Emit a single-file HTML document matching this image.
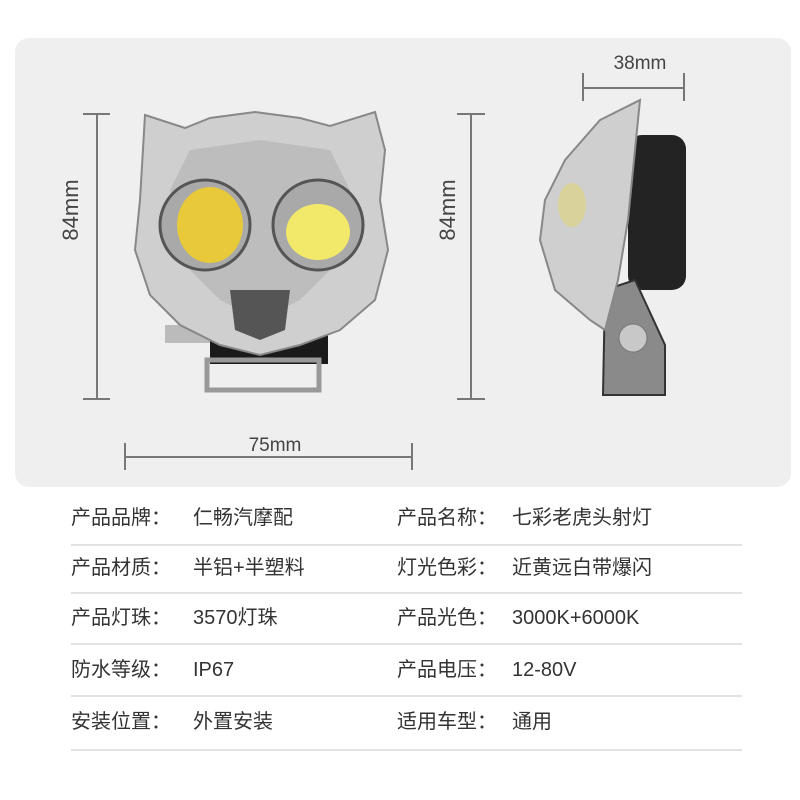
<!DOCTYPE html>
<html><head><meta charset="utf-8"><style>
body{margin:0;width:800px;height:800px;background:#fff;position:relative;overflow:hidden;font-family:"Liberation Sans","Noto Sans CJK SC",sans-serif;color:#333}
.panel{position:absolute;left:15px;top:38px;width:776px;height:449px;background:#efefef;border-radius:14px}
.t{position:absolute;font-size:20px;line-height:20px;white-space:nowrap;color:#333}
.ln{position:absolute;left:71px;width:671px;height:2px;background:#e2e2e2}
</style></head><body>
<div class="panel"></div>
<svg width="800" height="800" style="position:absolute;left:0;top:0">
<g stroke="#777" stroke-width="2" fill="none">
<line x1="97" y1="114" x2="97" y2="399"/><line x1="83" y1="114" x2="110" y2="114"/><line x1="83" y1="399" x2="110" y2="399"/>
<line x1="471" y1="114" x2="471" y2="399"/><line x1="457" y1="114" x2="485" y2="114"/><line x1="457" y1="399" x2="485" y2="399"/>
<line x1="125" y1="457" x2="412" y2="457"/><line x1="125" y1="443" x2="125" y2="470"/><line x1="412" y1="443" x2="412" y2="470"/>
<line x1="583" y1="88" x2="684" y2="88"/><line x1="583" y1="73" x2="583" y2="101"/><line x1="684" y1="73" x2="684" y2="101"/>
</g>
<g font-family="Liberation Sans" font-size="19" fill="#444">
<text x="275" y="451" text-anchor="middle">75mm</text>
<text x="640" y="69" text-anchor="middle">38mm</text>
<text transform="translate(78,210) rotate(-90)" text-anchor="middle" font-size="22">84mm</text>
<text transform="translate(455,210) rotate(-90)" text-anchor="middle" font-size="22">84mm</text>
</g>
<rect x="210" y="322" width="118" height="42" fill="#1a1a1a"/>
<rect x="207" y="360" width="112" height="30" fill="none" stroke="#999" stroke-width="5"/>
<rect x="165" y="325" width="45" height="18" fill="#bbb"/>
<path d="M145 115 L185 128 L210 118 L255 112 L300 118 L330 126 L375 112 L385 150 L380 200 L388 250 L375 300 L340 330 L300 345 L260 355 L220 345 L180 325 L150 295 L135 250 L140 200 Z" fill="#cfcfcf" stroke="#888" stroke-width="2"/>
<path d="M190 150 L260 140 L330 150 L350 190 L340 260 L300 300 L260 320 L220 300 L180 260 L170 190 Z" fill="#bdbdbd"/>
<circle cx="205" cy="225" r="45" fill="#a9a9a9" stroke="#555" stroke-width="3"/>
<circle cx="318" cy="225" r="45" fill="#a9a9a9" stroke="#555" stroke-width="3"/>
<ellipse cx="210" cy="225" rx="33" ry="38" fill="#e8c93a"/>
<ellipse cx="318" cy="232" rx="32" ry="28" fill="#f2e86a"/>
<path d="M230 290 L290 290 L285 330 L260 340 L235 330 Z" fill="#555"/>
<rect x="628" y="135" width="58" height="155" rx="14" fill="#232323"/>
<path d="M605 290 L635 280 L665 345 L665 395 L603 395 Z" fill="#8a8a8a" stroke="#333" stroke-width="2"/>
<circle cx="633" cy="338" r="14" fill="#c8c8c8" stroke="#777"/>
<path d="M640 100 L635 150 L628 220 L618 280 L605 330 L590 320 L555 290 L540 240 L545 200 L565 160 L600 120 Z" fill="#cfcfcf" stroke="#888" stroke-width="2"/>
<ellipse cx="572" cy="205" rx="14" ry="22" fill="#d9d29a"/>
</svg>
<div class="ln" style="top:544px"></div><div class="ln" style="top:592px"></div><div class="ln" style="top:643px"></div><div class="ln" style="top:695px"></div><div class="ln" style="top:749px"></div>
<div class="t" style="left:71px;top:508px">产品品牌：</div><div class="t" style="left:193px;top:508px">仁畅汽摩配</div>
<div class="t" style="left:397px;top:508px">产品名称：</div><div class="t" style="left:512px;top:508px">七彩老虎头射灯</div>
<div class="t" style="left:71px;top:558px">产品材质：</div><div class="t" style="left:193px;top:558px">半铝+半塑料</div>
<div class="t" style="left:397px;top:558px">灯光色彩：</div><div class="t" style="left:512px;top:558px">近黄远白带爆闪</div>
<div class="t" style="left:71px;top:608px">产品灯珠：</div><div class="t" style="left:193px;top:608px">3570灯珠</div>
<div class="t" style="left:397px;top:608px">产品光色：</div><div class="t" style="left:512px;top:608px">3000K+6000K</div>
<div class="t" style="left:71px;top:660px">防水等级：</div><div class="t" style="left:193px;top:660px">IP67</div>
<div class="t" style="left:397px;top:660px">产品电压：</div><div class="t" style="left:512px;top:660px">12-80V</div>
<div class="t" style="left:71px;top:712px">安装位置：</div><div class="t" style="left:193px;top:712px">外置安装</div>
<div class="t" style="left:397px;top:712px">适用车型：</div><div class="t" style="left:512px;top:712px">通用</div>
</body></html>
